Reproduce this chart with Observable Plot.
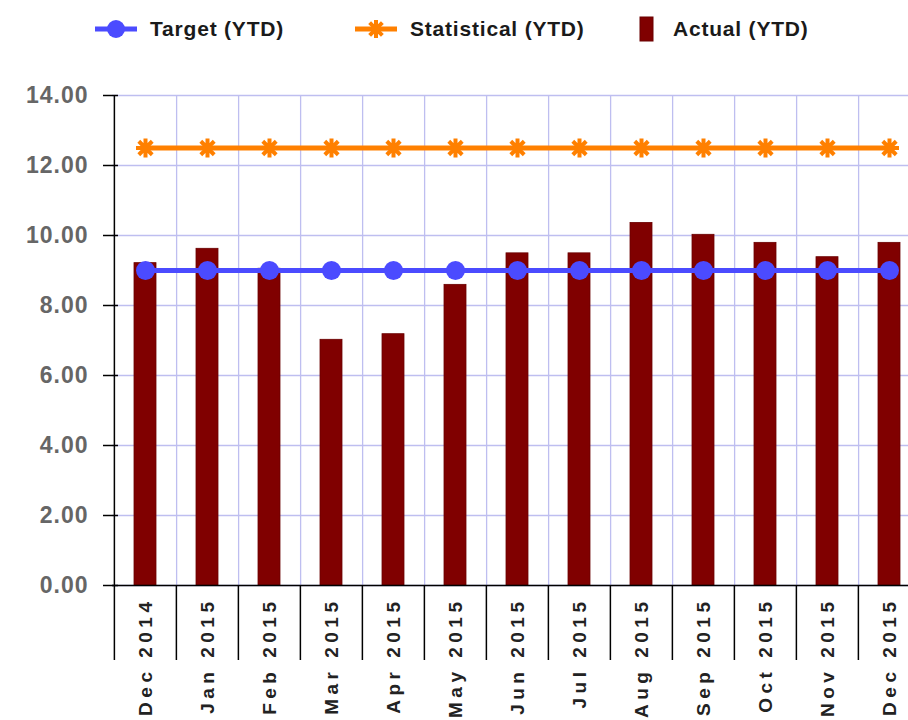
<!DOCTYPE html>
<html>
<head>
<meta charset="utf-8">
<script src="https://cdn.jsdelivr.net/npm/d3@7"></script>
<script src="https://cdn.jsdelivr.net/npm/@observablehq/plot@0.6"></script>
<style>
  html, body { margin: 0; padding: 0; background: #fff; overflow: hidden; width: 908px; height: 720px; }
  #legend { position: relative; height: 60px; font-family: "Liberation Sans", Arial, sans-serif; font-weight: bold; font-size: 21px; letter-spacing: 0.8px; color: #1a1a1a; }
  .item { position: absolute; top: 0; height: 58px; display: flex; align-items: center; }
  .item svg { display: block; }
  #chart svg [aria-label="x-axis tick label"] text { letter-spacing: 4.5px; }
  #chart svg [aria-label="y-axis tick label"] text { letter-spacing: 1px; }
</style>
</head>
<body>
<div id="legend"></div>
<div id="chart"></div>
<script>
const months = ["Dec 2014","Jan 2015","Feb 2015","Mar 2015","Apr 2015","May 2015","Jun 2015","Jul 2015","Aug 2015","Sep 2015","Oct 2015","Nov 2015","Dec 2015"];
const actual = [9.21, 9.62, 9.05, 7.02, 7.18, 8.59, 9.49, 9.49, 10.36, 10.02, 9.79, 9.38, 9.79];
const target = [9, 9, 9, 9, 9, 9, 9, 9, 9, 9, 9, 9, 9];
const statistical = [12.5, 12.5, 12.5, 12.5, 12.5, 12.5, 12.5, 12.5, 12.5, 12.5, 12.5, 12.5, 12.5];
const yTicks = [0, 2, 4, 6, 8, 10, 12, 14];
const seriesNames = ["Target (YTD)", "Statistical (YTD)", "Actual (YTD)"];

const BLUE = "#4b4bff", ORANGE = "#ff8000", RED = "#800000", GRID = "#bebef0";

const rows = months.map((m, i) => ({month: m, actual: actual[i], target: target[i], statistical: statistical[i]}));

const asterisk = {
  draw(context, size) {
    const r = Math.sqrt(size / Math.PI);
    for (let k = 0; k < 4; k++) {
      const a = k * Math.PI / 4;
      context.moveTo(-r * Math.cos(a), -r * Math.sin(a));
      context.lineTo(r * Math.cos(a), r * Math.sin(a));
    }
  }
};

const width = 921, marginLeft = 112, marginRight = 0;
const step = (width - marginLeft - marginRight) / months.length;
const yPerPx = 14 / 490;
const below = -75 * yPerPx;

const chart = Plot.plot({
  width, height: 660,
  marginLeft, marginRight, marginTop: 35, marginBottom: 135,
  style: {fontFamily: "'Liberation Sans', Arial, sans-serif", maxWidth: "none", overflow: "visible", background: "#fff"},
  x: {domain: months, paddingInner: 0.65, paddingOuter: 0.325, label: null},
  y: {domain: [0, 14], label: null},
  marks: [
    Plot.ruleY(yTicks, {stroke: GRID, strokeWidth: 1.3}),
    Plot.ruleX(months, {x: d => d, y1: 0, y2: 14, dx: step / 2, stroke: GRID, strokeWidth: 1.3}),
    Plot.barY(rows, {x: "month", y: "actual", fill: RED, stroke: "#6a0000", strokeWidth: 0.8}),
    Plot.ruleY([0], {stroke: "#000", strokeWidth: 1.5}),
    Plot.ruleX(months, {x: d => d, y1: below, y2: 0, dx: -step / 2, stroke: "#000", strokeWidth: 1.5}),
    Plot.ruleX(months.slice(0, 1), {x: d => d, y1: 0, y2: 14, dx: -step / 2, stroke: "#000", strokeWidth: 1.5}),
    Plot.axisY({ticks: yTicks, tickFormat: d3.format(".2f"), tickSize: 15, tickPadding: 15, dx: 6, fontSize: 23, fontWeight: "bold", fill: "#666", stroke: "#000", strokeWidth: 1.5, label: null}),
    Plot.axisX({tickRotate: -90, tickSize: 0, tickPadding: 12, fontSize: 19, fontWeight: "bold", fill: "#222", label: null}),
    Plot.line(rows, {x: "month", y: "statistical", stroke: ORANGE, strokeWidth: 5}),
    Plot.dot(rows, {x: "month", y: "statistical", symbol: asterisk, r: 9.5, stroke: ORANGE, strokeWidth: 4, fill: "none"}),
    Plot.line(rows, {x: "month", y: "target", stroke: BLUE, strokeWidth: 5}),
    Plot.dot(rows, {x: "month", y: "target", r: 9.5, fill: BLUE, stroke: "none"})
  ]
});
document.getElementById("chart").appendChild(chart);

// Legend
const legend = document.getElementById("legend");
const legendItems = [
  {name: seriesNames[0], left: 95, kind: "circle", color: BLUE},
  {name: seriesNames[1], left: 355, kind: "asterisk", color: ORANGE},
  {name: seriesNames[2], left: 639, kind: "rect", color: RED}
];
for (const it of legendItems) {
  const div = document.createElement("div");
  div.className = "item";
  div.style.left = it.left + "px";
  const ns = "http://www.w3.org/2000/svg";
  const svg = document.createElementNS(ns, "svg");
  if (it.kind === "rect") {
    svg.setAttribute("width", 16); svg.setAttribute("height", 26);
    svg.style.marginRight = "18px";
    const r = document.createElementNS(ns, "rect");
    r.setAttribute("x", 1); r.setAttribute("y", 1); r.setAttribute("width", 13); r.setAttribute("height", 24);
    r.setAttribute("fill", it.color); r.setAttribute("stroke", "#6a0000");
    svg.appendChild(r);
  } else {
    svg.setAttribute("width", 42); svg.setAttribute("height", 22);
    svg.style.marginRight = "13px";
    const l = document.createElementNS(ns, "line");
    l.setAttribute("x1", 0); l.setAttribute("x2", 42); l.setAttribute("y1", 11); l.setAttribute("y2", 11);
    l.setAttribute("stroke", it.color); l.setAttribute("stroke-width", 5);
    svg.appendChild(l);
    if (it.kind === "circle") {
      const c = document.createElementNS(ns, "circle");
      c.setAttribute("cx", 21); c.setAttribute("cy", 11); c.setAttribute("r", 9); c.setAttribute("fill", it.color);
      svg.appendChild(c);
    } else {
      const p = document.createElementNS(ns, "path");
      let d = "";
      for (let k = 0; k < 4; k++) {
        const a = k * Math.PI / 4, r = 9;
        d += `M${21 - r * Math.cos(a)},${11 - r * Math.sin(a)}L${21 + r * Math.cos(a)},${11 + r * Math.sin(a)}`;
      }
      p.setAttribute("d", d); p.setAttribute("stroke", it.color); p.setAttribute("stroke-width", 4);
      svg.appendChild(p);
    }
  }
  div.appendChild(svg);
  const span = document.createElement("span");
  span.textContent = it.name;
  div.appendChild(span);
  legend.appendChild(div);
}
</script>
</body>
</html>
